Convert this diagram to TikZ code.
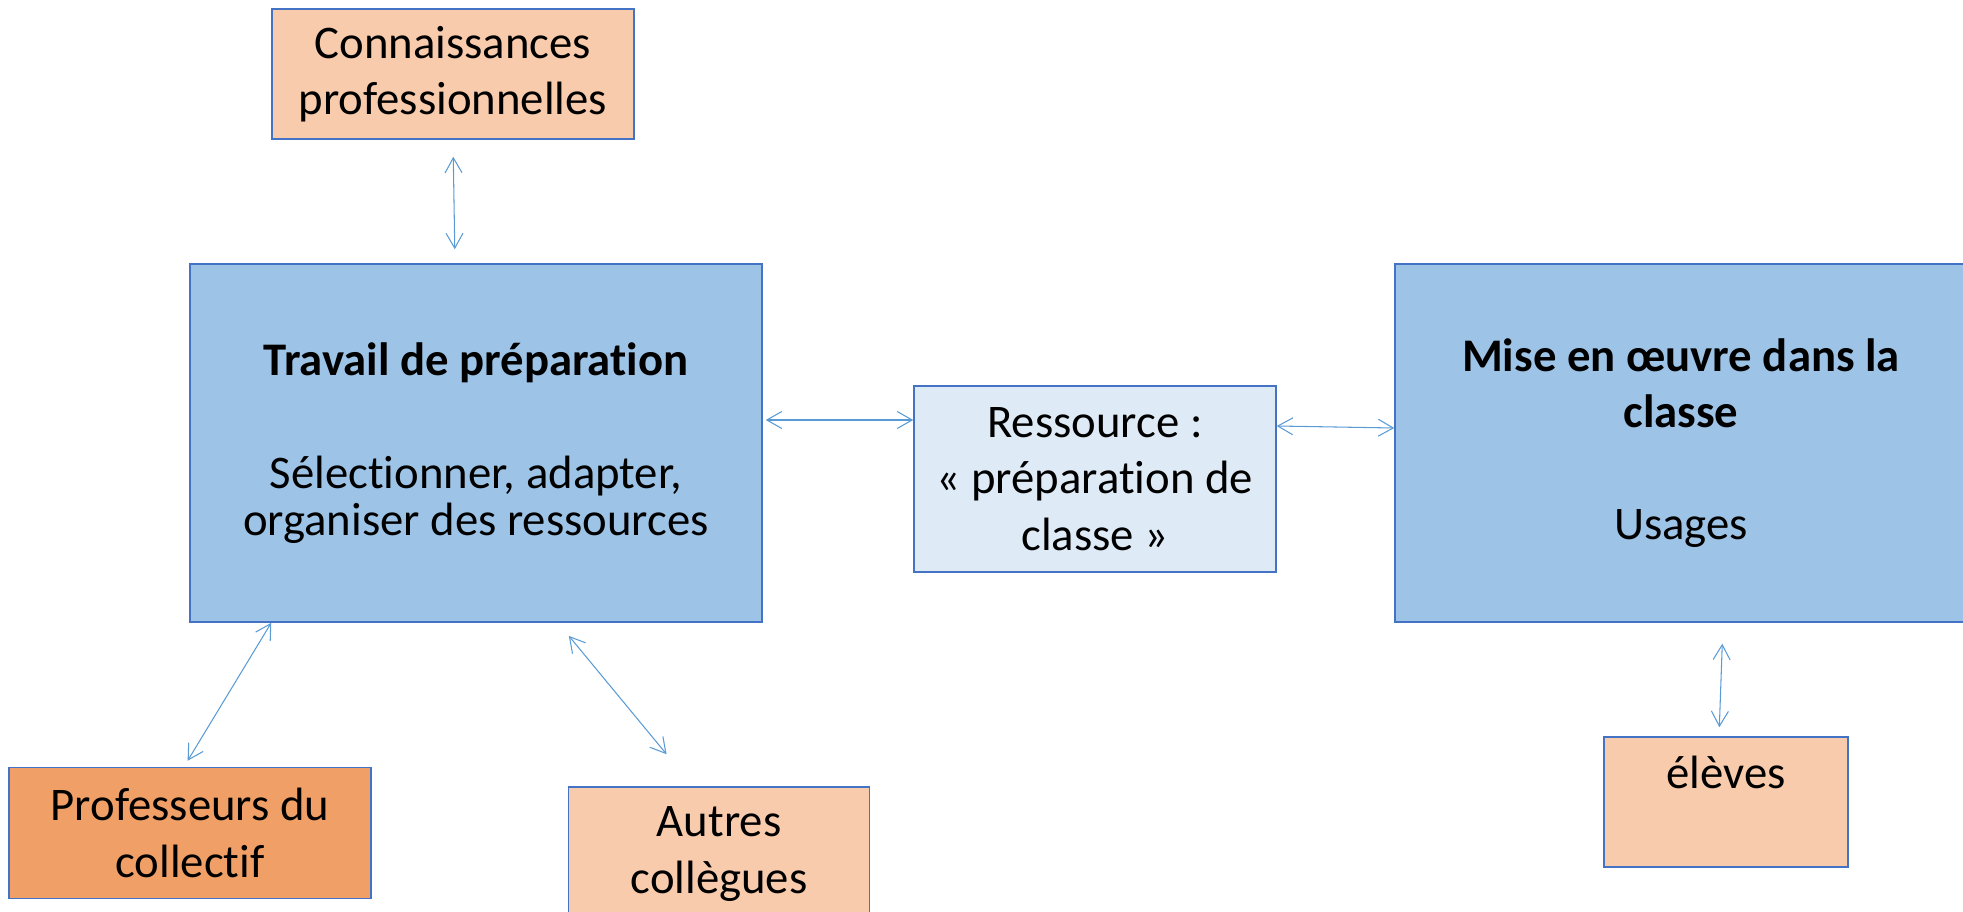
\documentclass[tikz,border=0pt]{standalone}
\usepackage{fontspec}
\setmainfont{Carlito}[Ligatures={TeX,NoCommon}]
\usetikzlibrary{
   arrows.meta,
   calc,
   positioning
}

\definecolor{boxblue}{HTML}{9DC3E6}
\definecolor{paleblue}{HTML}{DEEBF7}
\definecolor{peach}{HTML}{F8CBAD}
\definecolor{deeporange}{HTML}{F0A066}
\definecolor{edgeblue}{HTML}{4472C4}
\definecolor{arrowblue}{HTML}{5B9BD5}

\begin{document}
\begin{tikzpicture}[
    x=0.02cm, y=-0.02cm,
    every node/.style={font=\fontsize{26.6}{32}\selectfont},
    box/.style={rectangle, draw=edgeblue, line width=0.9pt, align=center, inner sep=0pt},
    link/.style={draw=arrowblue, line width=0.6pt,
        {Straight Barb[length=0.3cm,width=0.34cm]}-{Straight Barb[length=0.3cm,width=0.34cm]}}
]
\useasboundingbox (0,0) rectangle (1963,912);

% main blocks
\node[box, fill=boxblue, minimum width=11.44cm, minimum height=7.16cm] (trav) at (476,443)
    {\textbf{Travail de préparation}\\[1.135cm]Sélectionner, adapter,\\[-0.185cm]organiser des ressources};
\node[box, fill=paleblue, minimum width=7.24cm, minimum height=3.72cm] (res) at (1095,479)
    {Ressource :\\« préparation de\\classe »};
\node[box, fill=boxblue, minimum width=11.44cm, minimum height=7.16cm] (mise) at (1681,443)
    {\textbf{Mise en œuvre dans la}\\\textbf{classe}\\[1.125cm]Usages};

% outer blocks
\node[box, fill=peach, minimum width=7.24cm, minimum height=2.6cm] (conn) at (453,74)
    {Connaissances\\professionnelles};
\node[box, fill=deeporange, minimum width=7.24cm, minimum height=2.62cm] (prof) at (190,833)
    {Professeurs du\\collectif};
\node[box, fill=peach, minimum width=6.02cm, minimum height=2.68cm] (autres) at (719,854)
    {Autres\\collègues};
\node[box, fill=peach, minimum width=4.88cm, minimum height=2.6cm,
      text height=0.7cm, text depth=1.26cm] (eleves) at (1726,802) {élèves};

% arrows
\draw[link, shorten <=0.34cm, shorten >=0.28cm] (conn.south) -- ($(trav.north)+(-21,0)$);
\draw[link, shorten >=0.14cm] ($(trav.south west)+(82,0)$) -- ($(prof.north)+(-6,0)$);
\draw[link, shorten <=0.34cm, shorten >=0.83cm] ($(trav.south)+(82,0)$) -- ($(autres.north)+(-26,0)$);
\draw[link, shorten <=0.06cm] ($(trav.east)+(0,-23)$) -- ($(res.west)+(0,-59)$);
\draw[link] ($(res.east)+(0,-53)$) -- ($(mise.west)+(0,-15)$);
\draw[link, shorten <=0.42cm, shorten >=0.18cm] ($(mise.south)+(42,0)$) -- ($(eleves.north)+(-7,0)$);

\end{tikzpicture}
\end{document}
